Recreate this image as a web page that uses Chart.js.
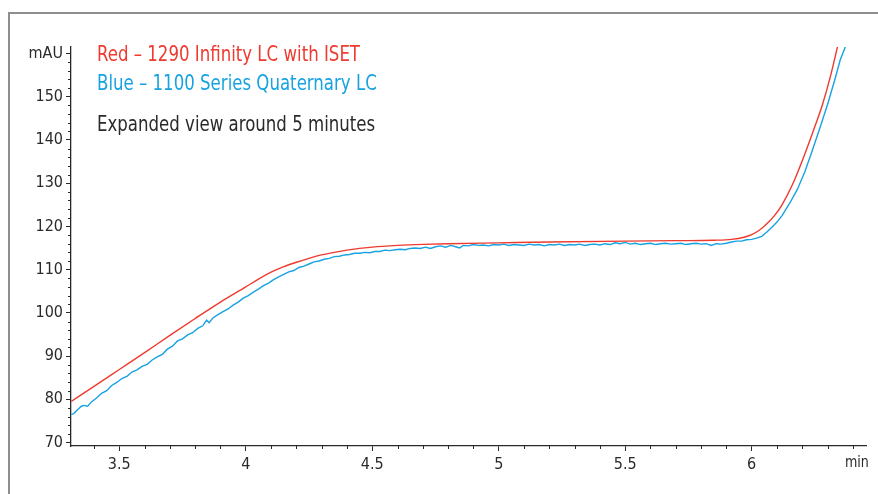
<!DOCTYPE html>
<html>
<head>
<meta charset="utf-8">
<script src="https://cdn.jsdelivr.net/npm/chart.js@4.4.1/dist/chart.umd.min.js"></script>
<style>
  html, body { margin: 0; padding: 0; background: #fff; overflow: hidden; }
  #wrap { position: relative; width: 878px; height: 494px; }
  #frame { position: absolute; left: 8px; top: 12px; width: 900px; height: 500px; border: 2px solid #8e8e8e; box-sizing: border-box; }
  canvas { position: absolute; left: 0; top: 0; }
</style>
</head>
<body>
<div id="wrap">
  <div id="frame"></div>
  <canvas id="c" width="878" height="494"></canvas>
</div>
<script>
// ---- data ----
const redTime = [3.31, 3.40, 3.50, 3.60, 3.70, 3.80, 3.90, 4.00, 4.05, 4.10, 4.15, 4.20, 4.25, 4.30, 4.35, 4.40, 4.50, 4.60, 4.70, 4.80, 5.00, 5.20, 5.50, 5.70, 5.85, 5.92, 5.97, 6.00, 6.03, 6.06, 6.09, 6.12, 6.16, 6.20, 6.24, 6.28, 6.31, 6.34];
const redAbs  = [79.5, 83.0, 86.9, 90.8, 94.8, 98.7, 102.5, 106.0, 107.8, 109.4, 110.7, 111.7, 112.6, 113.4, 114.0, 114.5, 115.2, 115.6, 115.85, 116.0, 116.2, 116.4, 116.6, 116.7, 116.8, 117.0, 117.5, 118.1, 119.1, 120.6, 122.5, 125.0, 129.5, 135.2, 141.5, 148.2, 154.4, 161.7];

const blueTime = [3.31, 3.32, 3.335, 3.35, 3.36, 3.375, 3.39, 3.41, 3.43, 3.45, 3.47, 3.49, 3.51, 3.53, 3.55, 3.57, 3.59, 3.61, 3.63, 3.65, 3.67, 3.69, 3.71, 3.73, 3.75, 3.77, 3.79, 3.81, 3.83, 3.845, 3.855, 3.87, 3.89, 3.91, 3.93, 3.95, 3.97, 3.99, 4.01, 4.03, 4.05, 4.07, 4.09, 4.11, 4.13, 4.15, 4.17, 4.19, 4.21, 4.23, 4.25, 4.27, 4.29, 4.31, 4.33, 4.35, 4.37, 4.39, 4.41, 4.43, 4.45, 4.47, 4.49, 4.51, 4.53, 4.55, 4.57, 4.59, 4.61, 4.63, 4.65, 4.67, 4.69, 4.71, 4.73, 4.75, 4.77, 4.79, 4.81, 4.83, 4.845, 4.86, 4.88, 4.90, 4.92, 4.94, 4.96, 4.98, 5.00, 5.02, 5.04, 5.06, 5.08, 5.10, 5.12, 5.14, 5.16, 5.18, 5.20, 5.22, 5.24, 5.26, 5.28, 5.30, 5.32, 5.34, 5.36, 5.38, 5.40, 5.42, 5.44, 5.46, 5.48, 5.50, 5.52, 5.54, 5.56, 5.58, 5.60, 5.62, 5.64, 5.66, 5.68, 5.70, 5.72, 5.74, 5.76, 5.78, 5.80, 5.82, 5.84, 5.86, 5.88, 5.90, 5.92, 5.94, 5.96, 5.98, 6.00, 6.02, 6.04, 6.06, 6.08, 6.10, 6.12, 6.15, 6.18, 6.21, 6.24, 6.27, 6.30, 6.33, 6.35, 6.372];
const blueAbs  = [76.5, 76.7, 77.6, 78.4, 78.6, 78.4, 79.4, 80.3, 81.4, 82.0, 83.2, 83.9, 84.8, 85.3, 86.3, 86.8, 87.6, 88.1, 89.1, 89.8, 90.4, 91.6, 92.3, 93.5, 94.0, 94.9, 95.4, 96.4, 97.0, 98.3, 97.7, 98.8, 99.6, 100.3, 100.9, 101.8, 102.5, 103.4, 104.0, 104.8, 105.5, 106.3, 106.9, 107.7, 108.3, 108.9, 109.5, 109.8, 110.5, 110.8, 111.3, 111.8, 112.0, 112.4, 112.6, 113.0, 113.1, 113.4, 113.5, 113.8, 113.8, 114.0, 113.9, 114.2, 114.2, 114.5, 114.4, 114.6, 114.7, 114.6, 114.9, 115.0, 114.9, 115.2, 114.9, 115.3, 115.5, 115.2, 115.6, 115.3, 115.0, 115.6, 115.5, 115.8, 115.6, 115.7, 115.5, 115.8, 115.7, 115.9, 115.6, 115.8, 115.7, 115.6, 115.9, 115.7, 115.8, 115.5, 115.8, 115.7, 115.9, 115.6, 115.8, 115.7, 115.9, 115.6, 115.8, 115.9, 115.7, 116.0, 115.8, 116.2, 116.0, 116.3, 115.9, 116.1, 115.8, 116.0, 116.1, 115.8, 116.0, 116.1, 115.9, 116.0, 116.1, 115.8, 116.0, 116.1, 115.9, 116.0, 115.6, 116.0, 115.9, 116.1, 116.4, 116.6, 116.6, 116.9, 117.0, 117.3, 117.7, 118.7, 119.8, 121.0, 122.5, 125.3, 128.5, 132.6, 137.6, 142.8, 148.2, 154.2, 158.5, 161.8];

const xTicks = [3.5, 4, 4.5, 5, 5.5, 6];
const yTicks = [70, 80, 90, 100, 110, 120, 130, 140, 150, 160];
const xMinor = [3.4, 3.6, 3.7, 3.8, 3.9, 4.1, 4.2, 4.3, 4.4, 4.6, 4.7, 4.8, 4.9, 5.1, 5.2, 5.3, 5.4, 5.6, 5.7, 5.8, 5.9, 6.1, 6.2, 6.3, 6.4];
const yMinor = [72, 74, 76, 78, 82, 84, 86, 88, 92, 94, 96, 98, 102, 104, 106, 108, 112, 114, 116, 118, 122, 124, 126, 128, 132, 134, 136, 138, 142, 144, 146, 148, 152, 154, 156, 158];
const notes = ["Red \u2013 1290 Infinity LC with ISET", "Blue \u2013 1100 Series Quaternary LC", "Expanded view around 5 minutes"];
const xUnit = "min";
const yUnit = "mAU";

const FONT = "'Liberation Sans Narrow', 'DejaVu Sans Condensed', 'Arial Narrow', sans-serif";
const RED = '#ee3a2f';
const BLUE = '#17a2e2';
const INK = '#2a2a2a';

const toXY = (xs, ys) => xs.map((x, i) => ({ x: x, y: ys[i] }));

const extras = {
  id: 'extras',
  afterDraw(chart) {
    const { ctx, scales: { x, y }, chartArea } = chart;
    ctx.save();
    ctx.strokeStyle = INK;
    ctx.lineWidth = 1;
    for (const v of yMinor) {
      const py = Math.round(y.getPixelForValue(v)) + 0.5;
      ctx.beginPath();
      ctx.moveTo(chartArea.left - 3, py);
      ctx.lineTo(chartArea.left, py);
      ctx.stroke();
    }
    for (const v of xMinor) {
      const px = Math.round(x.getPixelForValue(v)) + 0.5;
      ctx.beginPath();
      ctx.moveTo(px, chartArea.bottom);
      ctx.lineTo(px, chartArea.bottom + 3);
      ctx.stroke();
    }
    ctx.font = '16px ' + FONT;
    ctx.fillStyle = INK;
    ctx.textAlign = 'center';
    ctx.textBaseline = 'top';
    ctx.save();
    const ux = x.getPixelForValue(6.416);
    ctx.translate(ux, chartArea.bottom + 9);
    ctx.scale(0.88, 1);
    ctx.fillText(xUnit, 0, 0);
    ctx.restore();

    // annotation texts, horizontally condensed to match the reference's narrow typeface
    ctx.textAlign = 'left';
    ctx.textBaseline = 'alphabetic';
    ctx.font = '21px ' + FONT;
    const sx = 263 / ctx.measureText(notes[0]).width;
    const rows = [[notes[0], RED, 61], [notes[1], BLUE, 90], [notes[2], INK, 131]];
    for (const [t, c, by] of rows) {
      ctx.save();
      ctx.translate(97, by);
      ctx.scale(sx, 1);
      ctx.fillStyle = c;
      ctx.fillText(t, 0, 0);
      ctx.restore();
    }
    ctx.restore();
  }
};

new Chart(document.getElementById('c'), {
  type: 'line',
  data: {
    datasets: [
      { label: 'red', data: toXY(redTime, redAbs), borderColor: RED, borderWidth: 1.4, pointRadius: 0, tension: 0.4, cubicInterpolationMode: 'monotone', fill: false },
      { label: 'blue', data: toXY(blueTime, blueAbs), borderColor: BLUE, borderWidth: 1.4, pointRadius: 0, tension: 0, fill: false }
    ]
  },
  options: {
    responsive: false,
    animation: false,
    devicePixelRatio: 1,
    layout: { padding: { top: 47, right: 12, left: 0, bottom: 0 } },
    plugins: { legend: { display: false }, tooltip: { enabled: false }, title: { display: false } },
    scales: {
      x: {
        type: 'linear', min: 3.309, max: 6.452,
        afterBuildTicks: s => { s.ticks = xTicks.map(v => ({ value: v })); },
        afterFit: s => { s.height = 48; },
        ticks: { color: INK, font: { family: FONT, size: 16 }, padding: 4, maxRotation: 0, autoSkip: false, callback: v => String(v) },
        grid: { drawOnChartArea: false, drawTicks: true, tickLength: 5, color: INK },
        border: { color: INK, width: 1.3 }
      },
      y: {
        type: 'linear', min: 69.2, max: 161.5,
        afterBuildTicks: s => { s.ticks = yTicks.map(v => ({ value: v })); },
        afterFit: s => { s.width = 71; },
        ticks: { color: INK, font: { family: FONT, size: 16 }, padding: 3, autoSkip: false, callback: v => (v === 160 ? yUnit : String(v)) },
        grid: { drawOnChartArea: false, drawTicks: true, tickLength: 5, color: INK },
        border: { color: INK, width: 1.3 }
      }
    }
  },
  plugins: [extras]
});
</script>
</body>
</html>
